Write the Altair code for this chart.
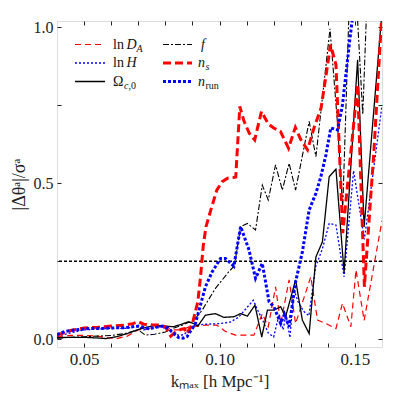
import altair as alt
import pandas as pd

# ---------------- data ----------------
series = ["lnDA", "lnH", "Omega", "f", "ns", "nrun"]

k_DA = [0.040, 0.045, 0.050, 0.055, 0.058, 0.062, 0.066, 0.070, 0.073, 0.077, 0.080, 0.083,
        0.086, 0.089, 0.092, 0.095, 0.099, 0.1022, 0.1059, 0.1127, 0.1158, 0.1180, 0.1207,
        0.1226, 0.1257, 0.1281, 0.1337, 0.1362, 0.1393, 0.1430, 0.1454, 0.1485, 0.1504,
        0.1534, 0.1600]
v_DA = [0.008, 0.012, 0.012, 0.010, 0.005, 0.002, 0.010, 0.030, 0.032, 0.042, 0.040, 0.030,
        0.030, 0.040, 0.042, 0.045, 0.045, 0.025, 0.013, 0.013, 0.082, 0.040, 0.168,
        0.050, 0.190, 0.050, 0.200, 0.061, 0.050, 0.034, 0.115, 0.040, 0.222,
        0.060, 0.380]

k_H = [0.040, 0.050, 0.060, 0.065, 0.070, 0.072, 0.075, 0.078, 0.080, 0.083, 0.085, 0.087,
       0.089, 0.091, 0.095, 0.100, 0.104, 0.107, 0.110, 0.1125, 0.114, 0.116, 0.118, 0.120,
       0.122, 0.1235, 0.1245, 0.126, 0.1275, 0.129, 0.131, 0.133, 0.1355, 0.138, 0.1405,
       0.143, 0.146, 0.1495, 0.1535, 0.160]
v_H = [0.010, 0.030, 0.035, 0.035, 0.040, 0.030, 0.035, 0.040, 0.035, 0.020, 0.012, 0.015,
       0.035, 0.045, 0.048, 0.050, 0.055, 0.070, 0.100, 0.125, 0.095, 0.060, 0.020, 0.007,
       0.080, 0.030, 0.080, 0.005, 0.160, 0.120, 0.090, 0.075, 0.232, 0.290, 0.371,
       0.366, 0.200, 0.540, 0.320, 0.750]

k_Om = [0.040, 0.045, 0.050, 0.055, 0.058, 0.062, 0.066, 0.070, 0.073, 0.076, 0.080, 0.083,
        0.086, 0.0885, 0.0905, 0.092, 0.0948, 0.0985, 0.1016, 0.1053, 0.1078, 0.1103, 0.1131,
        0.1156, 0.1177, 0.1201, 0.1226, 0.1244, 0.1281, 0.1306, 0.1331, 0.1356, 0.138,
        0.1405, 0.143, 0.146, 0.151, 0.1534, 0.160]
v_Om = [0.005, 0.006, 0.006, 0.004, 0.002, 0.008, 0.018, 0.031, 0.038, 0.045, 0.042, 0.040,
        0.048, 0.056, 0.050, 0.042, 0.077, 0.082, 0.070, 0.072, 0.082, 0.074, 0.109,
        0.007, 0.093, 0.093, 0.104, 0.072, 0.190, 0.061, 0.018, 0.264, 0.312,
        0.521, 0.545, 0.214, 0.896, 0.360, 1.050]

k_f = [0.040, 0.045, 0.050, 0.055, 0.060, 0.065, 0.070, 0.0726, 0.076, 0.080, 0.083, 0.0862,
       0.089, 0.0905, 0.0936, 0.0985, 0.1034, 0.1055, 0.1078, 0.1103, 0.1133, 0.1158, 0.1180,
       0.1207, 0.1232, 0.1257, 0.1281, 0.1331, 0.1356, 0.1408, 0.1435, 0.1455, 0.1480,
       0.1505, 0.1529, 0.1545, 0.1600]
v_f = [0.003, 0.006, 0.008, 0.010, 0.012, 0.018, 0.030, 0.013, 0.016, 0.023, 0.035, 0.045,
       0.055, 0.060, 0.093, 0.163, 0.216, 0.235, 0.361, 0.371, 0.350, 0.494, 0.446,
       0.559, 0.478, 0.564, 0.478, 0.698, 0.585, 0.995, 0.700, 0.420, 1.100,
       1.100, 0.720, 1.100, 1.200]

k_ns = [0.040, 0.045, 0.050, 0.055, 0.060, 0.065, 0.068, 0.070, 0.072, 0.075, 0.078, 0.080,
        0.082, 0.084, 0.086, 0.087, 0.088, 0.090, 0.092, 0.093, 0.094, 0.095, 0.097, 0.099,
        0.101, 0.103, 0.105, 0.106, 0.1075, 0.109, 0.111, 0.113, 0.1155, 0.118, 0.120,
        0.1225, 0.1255, 0.128, 0.130, 0.1325, 0.135, 0.1375, 0.139, 0.141, 0.143, 0.1455,
        0.151, 0.1535, 0.157, 0.160]
v_ns = [0.013, 0.028, 0.036, 0.038, 0.042, 0.045, 0.050, 0.056, 0.048, 0.046, 0.045, 0.040,
        0.010, 0.025, 0.032, 0.034, 0.018, 0.050, 0.120, 0.200, 0.300, 0.360, 0.420, 0.478,
        0.505, 0.516, 0.518, 0.520, 0.746, 0.700, 0.660, 0.639, 0.730, 0.690, 0.677,
        0.666, 0.612, 0.679, 0.640, 0.607, 0.680, 0.741, 0.826, 0.944, 0.880, 0.340,
        0.816, 0.168, 0.600, 1.050]

k_run = [0.040, 0.043, 0.047, 0.0516, 0.056, 0.060, 0.065, 0.0701, 0.0738, 0.0765, 0.0788,
         0.081, 0.0825, 0.0849, 0.0865, 0.088, 0.0911, 0.0948, 0.0973, 0.1004, 0.1022,
         0.1053, 0.1078, 0.1109, 0.1133, 0.1158, 0.1183, 0.1201, 0.1226, 0.1240, 0.1257,
         0.1281, 0.1306, 0.1331, 0.1356, 0.1374, 0.1393, 0.1411, 0.1436, 0.1454, 0.1479,
         0.1495, 0.152, 0.160]
v_run = [0.015, 0.025, 0.030, 0.034, 0.034, 0.036, 0.037, 0.042, 0.034, 0.038, 0.042,
         0.035, 0.023, 0.005, 0.003, 0.008, 0.050, 0.168, 0.216, 0.259, 0.259,
         0.234, 0.361, 0.286, 0.195, 0.243, 0.120, 0.104, 0.050, 0.080, 0.040,
         0.184, 0.280, 0.414, 0.468, 0.520, 0.591, 0.677, 0.671, 0.751, 0.944,
         1.060, 1.200, 1.200]

threshold = [0.25]

x_ticks = [0.05, 0.06, 0.07, 0.08, 0.09, 0.10, 0.11, 0.12, 0.13, 0.14, 0.15]
y_ticks = [0.0, 0.25, 0.5, 0.75, 1.0]

# ---------------- styles ----------------
colors = {"lnDA": "#ff0000", "lnH": "#0000ff", "Omega": "#000000",
          "f": "#000000", "ns": "#ff0000", "nrun": "#0000ff"}
dashes = {"lnDA": [6, 4], "lnH": [2, 2], "Omega": [1, 0],
          "f": [6, 2, 2, 2], "ns": [8, 4], "nrun": [3, 2]}
widths = {"lnDA": 1.2, "lnH": 1.3, "Omega": 1.3, "f": 1.1, "ns": 3.0, "nrun": 3.0}

XDOM = [0.04, 0.16]
YDOM = [-0.025, 1.02]
W, H = 325, 326
FONT = "Liberation Serif"

pairs = {"lnDA": (k_DA, v_DA), "lnH": (k_H, v_H), "Omega": (k_Om, v_Om),
         "f": (k_f, v_f), "ns": (k_ns, v_ns), "nrun": (k_run, v_run)}

xs = alt.Scale(domain=XDOM, nice=False, zero=False)
ys = alt.Scale(domain=YDOM, nice=False, zero=False)

ax_bottom = alt.Axis(
    orient="bottom", values=x_ticks, offset=-4, tickSize=4, domain=False, grid=False,
    tickColor="#222", labelColor="#222",
    labelExpr="abs(datum.value*20 - round(datum.value*20)) < 0.001 ? format(datum.value, '.2f') : ''",
    labelFont=FONT, labelFontSize=17, labelPadding=4,
    title="kₘₐₓ [h Mpc⁻¹]", titleFont=FONT, titleFontSize=17, titleFontWeight="normal",
    titleColor="#222", titlePadding=6)
ax_left = alt.Axis(
    orient="left", values=y_ticks, offset=-4, tickSize=4, domain=False, grid=False,
    tickColor="#222", labelColor="#222",
    labelExpr="abs(datum.value*2 - round(datum.value*2)) < 0.001 ? format(datum.value, '.1f') : ''",
    labelFont=FONT, labelFontSize=16, labelPadding=4,
    title="|Δθᵃ|/σᵃ", titleFont=FONT, titleFontSize=18, titleFontWeight="normal",
    titleColor="#222", titlePadding=5)
ax_top = alt.Axis(orient="top", values=x_ticks, offset=-4, tickSize=4, domain=False,
                  grid=False, labels=False, title=None, tickColor="#222")
ax_right = alt.Axis(orient="right", values=y_ticks, offset=-4, tickSize=4, domain=False,
                    grid=False, labels=False, title=None, tickColor="#222")

layers = []
for i, s in enumerate(series):
    ks, vs = pairs[s]
    d = pd.DataFrame({"k": ks, "v": vs})
    layers.append(alt.Chart(d).mark_line(
        clip=True, color=colors[s], strokeDash=dashes[s], strokeWidth=widths[s]).encode(
        x=alt.X("k:Q", scale=xs, axis=ax_bottom if i == 0 else None),
        y=alt.Y("v:Q", scale=ys, axis=ax_left if i == 0 else None)))

thr = alt.Chart(pd.DataFrame({"t": threshold})).mark_rule(
    color="#000000", strokeDash=[3, 2], strokeWidth=1.4).encode(
    y=alt.Y("t:Q", scale=ys, axis=None))
layers.insert(0, thr)

# ---------------- hand-built legend (placed in data space) ----------------
def xd(px):
    return XDOM[0] + (px - 57) * (XDOM[1] - XDOM[0]) / W


def yd(py):
    return YDOM[1] - (py - 21) * (YDOM[1] - YDOM[0]) / H


row_py = [44.5, 63.0, 81.5]
col_line = [(75, 105), (163, 192)]
col_text = [113, 198]
slots = {"lnDA": (0, 0), "lnH": (0, 1), "Omega": (0, 2), "f": (1, 0), "ns": (1, 1), "nrun": (1, 2)}

for i, s in enumerate(series):
    c, r = slots[s]
    d = pd.DataFrame({"x1": [xd(col_line[c][0])], "x2": [xd(col_line[c][1])],
                      "y": [yd(row_py[r])]})
    layers.append(alt.Chart(d).mark_rule(
        color=colors[s], strokeDash=dashes[s], strokeWidth=widths[s]).encode(
        x=alt.X("x1:Q", scale=xs, axis=ax_top if i == 0 else None),
        x2="x2:Q",
        y=alt.Y("y:Q", scale=ys, axis=ax_right if i == 0 else None)))

# (series, fragment, offset px from text start, kind)
frags = [
    ("lnDA", "ln", 0, "roman"), ("lnDA", "D", 13.5, "italic"), ("lnDA", "A", 23.5, "subit"),
    ("lnH", "ln", 0, "roman"), ("lnH", "H", 13.5, "italic"),
    ("Omega", "Ω", 0, "roman"), ("Omega", "c", 11.0, "subit"), ("Omega", ",0", 15.5, "subrm"),
    ("f", "f", 3.0, "italic"),
    ("ns", "n", 0, "italic"), ("ns", "s", 7.5, "subit"),
    ("nrun", "n", 0, "italic"), ("nrun", "run", 7.5, "subrm"),
]
ft = pd.DataFrame([{"txt": t, "kind": kd,
                    "x": xd(col_text[slots[s][0]] + off), "y": yd(row_py[slots[s][1]])}
                   for s, t, off, kd in frags])


def text_layer(kind, size, style, dy):
    return alt.Chart(ft).transform_filter(alt.datum.kind == kind).mark_text(
        align="left", baseline="middle", font=FONT, fontSize=size, fontStyle=style,
        dy=dy, color="#111").encode(
        x=alt.X("x:Q", scale=xs, axis=None),
        y=alt.Y("y:Q", scale=ys, axis=None),
        text="txt:N")


layers += [text_layer("roman", 14, "normal", 0), text_layer("italic", 14, "italic", 0),
           text_layer("subit", 10, "italic", 4), text_layer("subrm", 10, "normal", 4)]

chart = alt.layer(*layers).resolve_axis(
    x="independent", y="independent"
).properties(
    width=W, height=H, autosize="none",
    padding={"left": 49, "top": 13, "right": 5, "bottom": 47},
).configure_view(stroke="#333333", strokeWidth=1.5).configure(font=FONT)

chart.save("out.html", embed_options={"renderer": "svg", "actions": False})
